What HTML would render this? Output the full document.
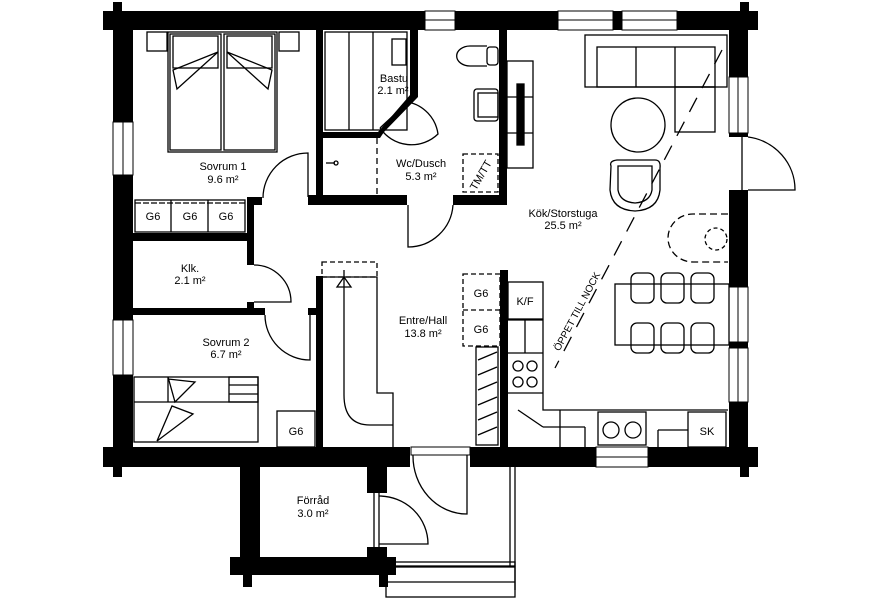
<!DOCTYPE html>
<html><head><meta charset="utf-8"><style>
html,body{margin:0;padding:0;background:#fff;}
svg{display:block;}
text{font-family:"Liberation Sans Narrow","Liberation Sans",sans-serif;font-size:11px;fill:#000;text-anchor:middle;}
</style></head><body>
<svg width="896" height="600" viewBox="0 0 896 600" xmlns="http://www.w3.org/2000/svg">
<g fill="#000">
<!-- outer walls -->
<rect x="103" y="11" width="655" height="19"/>
<rect x="113" y="2" width="9" height="28"/>
<rect x="740" y="2" width="9" height="28"/>
<rect x="113" y="11" width="20" height="456"/>
<rect x="729" y="11" width="19" height="126"/>
<rect x="729" y="190" width="19" height="277"/>
<rect x="103" y="447" width="307" height="20"/>
<rect x="113" y="447" width="9" height="30"/>
<rect x="470" y="447" width="288" height="20"/>
<rect x="740" y="447" width="9" height="30"/>
<!-- forrad -->
<rect x="240" y="447" width="20" height="128"/>
<rect x="230" y="557" width="166" height="18"/>
<rect x="243" y="557" width="9" height="30"/>
<rect x="367" y="447" width="20" height="46"/>
<rect x="367" y="547" width="20" height="28"/>
<rect x="379" y="557" width="9" height="30"/>
<!-- interior walls -->
<rect x="316" y="30" width="7" height="170"/>
<rect x="410" y="30" width="8" height="65"/>
<polygon points="410,93 418,95 418,97 384,132 380,138 323,138 323,132 378,132 410,95"/>
<rect x="308" y="195" width="99" height="10"/>
<rect x="453" y="195" width="54" height="10"/>
<rect x="499" y="30" width="8" height="175"/>
<rect x="247" y="197" width="15" height="8"/>
<rect x="133" y="233" width="120" height="8"/>
<rect x="247" y="197" width="7" height="68"/>
<rect x="247" y="302" width="7" height="13"/>
<rect x="133" y="308" width="132" height="7"/>
<rect x="308" y="308" width="10" height="7"/>
<rect x="316" y="276" width="7" height="171"/>
<rect x="500" y="270" width="8" height="177"/>
</g>
<!-- windows (white gaps with lines) -->
<g fill="#fff" stroke="#000" stroke-width="1">
<rect x="425" y="11" width="30" height="19"/>
<rect x="558" y="11" width="55" height="19"/>
<rect x="622" y="11" width="55" height="19"/>
<rect x="729" y="77" width="19" height="56"/>
<rect x="729" y="287" width="19" height="55"/>
<rect x="729" y="348" width="19" height="54"/>
<rect x="113" y="122" width="20" height="53"/>
<rect x="113" y="320" width="20" height="55"/>
<rect x="596" y="447" width="52" height="20"/>
<rect x="411" y="447" width="59" height="8"/>
</g>
<g stroke="#000" stroke-width="1">
<line x1="425" y1="20" x2="455" y2="20"/><line x1="558" y1="20" x2="613" y2="20"/><line x1="622" y1="20" x2="677" y2="20"/>
<line x1="738" y1="77" x2="738" y2="133"/><line x1="738" y1="287" x2="738" y2="402"/>
<line x1="123" y1="122" x2="123" y2="175"/><line x1="123" y1="320" x2="123" y2="375"/>
<line x1="596" y1="457" x2="648" y2="457"/>
</g>
<g fill="none" stroke="#000" stroke-width="1.3">
<!-- bed sovrum1 -->
<rect x="168" y="32" width="109" height="120"/>
<rect x="170" y="34" width="51" height="116"/><rect x="224" y="34" width="51" height="116"/>
<rect x="173" y="36" width="45" height="32"/><rect x="227" y="36" width="45" height="32"/>
<polyline points="218,52 173,70 177,89 218,52"/><polyline points="227,52 272,70 268,89 227,52"/>
<rect x="147" y="32" width="20" height="19"/><rect x="279" y="32" width="20" height="19"/>
<!-- door sovrum1 -->
<path d="M263,197 L263,198 A45,45 0 0 1 308,153 L308,197"/>
<!-- wardrobe -->
<rect x="135" y="200" width="110" height="32"/>
<line x1="171" y1="200" x2="171" y2="232"/><line x1="208" y1="200" x2="208" y2="232"/>
<line x1="135" y1="203" x2="245" y2="203" stroke-dasharray="6,2"/>
<!-- Klk door -->
<path d="M254,265 A37,37 0 0 1 291,302 L254,302"/>
<!-- sovrum2 door -->
<path d="M265,315 A45,45 0 0 0 310,360 L310,315"/>
<!-- bunk bed -->
<rect x="134" y="377" width="124" height="65"/>
<line x1="134" y1="402" x2="258" y2="402"/>
<rect x="229" y="377" width="29" height="25"/><line x1="229" y1="385" x2="258" y2="385"/><line x1="229" y1="394" x2="258" y2="394"/>
<polyline points="168,377 175,402 195,382 168,379"/><polyline points="157,441 172,406 193,414 157,441"/>
<line x1="168" y1="377" x2="168" y2="402"/>
<rect x="277" y="411" width="38" height="36"/>
<!-- bastu benches -->
<rect x="325" y="32" width="82" height="98"/>
<line x1="349" y1="32" x2="349" y2="130"/><line x1="373" y1="32" x2="373" y2="130"/>
<rect x="392" y="39" width="14" height="26"/>
<!-- bastu door -->
<path d="M380,128 L408,102 A38,38 0 0 1 438,134 A38,38 0 0 1 380,128"/>
<line x1="377" y1="138" x2="377" y2="195" stroke-dasharray="6,4"/>
<!-- shower valve -->
<line x1="326" y1="163" x2="335" y2="163"/><circle cx="336" cy="163" r="2"/>
<!-- wc door -->
<path d="M408,205 L408,247 A45,45 0 0 0 453,205"/>
<!-- toilet -->
<path d="M487,46 L470,46 A12,9 0 0 0 470,66 L487,66"/><rect x="487" y="47" width="11" height="18" rx="3"/>
<!-- sink -->
<rect x="474" y="89" width="24" height="32" rx="3"/><rect x="478" y="93" width="20" height="24"/>
<!-- TM/TT -->
<rect x="463" y="154" width="35" height="38" stroke-dasharray="5,3"/>
<!-- tv bench -->
<rect x="507" y="61" width="26" height="107"/>
<line x1="507" y1="97" x2="533" y2="97"/><line x1="507" y1="133" x2="533" y2="133"/>
<rect x="517" y="84" width="7" height="61" fill="#000"/>
<!-- sofa -->
<rect x="585" y="35" width="142" height="52"/>
<rect x="597" y="47" width="118" height="40"/>
<line x1="636" y1="47" x2="636" y2="87"/><line x1="675" y1="47" x2="675" y2="87"/>
<rect x="675" y="87" width="40" height="45"/>
<circle cx="638" cy="125" r="27"/>
<!-- armchair -->
<path d="M611,166 Q609,161 617,160 L655,160 Q661,160 660,168 L660,190 Q658,210 635,211 Q612,210 610,190 Z"/>
<path d="M618,166 L652,166 L652,190 Q650,202 635,203 Q620,202 618,190 Z"/>
<!-- fireplace -->
<path d="M728,214 L693,214 A25,24 0 0 0 693,262 L728,262" stroke-dasharray="7,4"/>
<circle cx="716" cy="239" r="11" stroke-dasharray="4,3"/>
<!-- dining -->
<rect x="615" y="284" width="114" height="61"/>
<g>
<rect x="631" y="273" width="23" height="30" rx="6"/><rect x="661" y="273" width="23" height="30" rx="6"/><rect x="691" y="273" width="23" height="30" rx="6"/>
<rect x="631" y="323" width="23" height="30" rx="6"/><rect x="661" y="323" width="23" height="30" rx="6"/><rect x="691" y="323" width="23" height="30" rx="6"/>
</g>
<!-- kitchen -->
<rect x="508" y="282" width="35" height="37"/>
<polyline points="508,320 543,320 543,410 728,410"/>
<line x1="508" y1="353" x2="543" y2="353"/><line x1="508" y1="393" x2="543" y2="393"/><line x1="525" y1="320" x2="525" y2="353"/>
<circle cx="518" cy="366" r="5"/><circle cx="532" cy="366" r="5"/><circle cx="518" cy="382" r="5"/><circle cx="532" cy="382" r="5"/>
<line x1="560" y1="410" x2="560" y2="447"/><line x1="585" y1="427" x2="585" y2="447"/><line x1="543" y1="427" x2="585" y2="427"/>
<polyline points="518,410 543,427"/>
<rect x="598" y="412" width="48" height="33"/>
<circle cx="611" cy="430" r="8"/><circle cx="633" cy="430" r="8"/>
<line x1="658" y1="430" x2="658" y2="447"/><line x1="658" y1="430" x2="688" y2="430"/>
<rect x="688" y="412" width="38" height="35"/>
<!-- G6 dashed hall -->
<rect x="463" y="274" width="37" height="72" stroke-dasharray="5,3"/>
<line x1="463" y1="310" x2="500" y2="310" stroke-dasharray="5,3"/>
<!-- shoe rack -->
<rect x="476" y="347" width="22" height="98"/>
<line x1="478" y1="360" x2="497" y2="352"/><line x1="478" y1="375" x2="497" y2="367"/><line x1="478" y1="390" x2="497" y2="382"/><line x1="478" y1="405" x2="497" y2="397"/><line x1="478" y1="420" x2="497" y2="412"/><line x1="478" y1="435" x2="497" y2="427"/>
<!-- stair -->
<rect x="322" y="262" width="55" height="15" stroke-dasharray="5,3"/>
<polyline points="323,277 377,277 377,393 393,393 393,447"/>
<path d="M344,270 L344,395 Q344,425 370,425 L393,425"/>
<polygon points="344,277 337,287 351,287"/>
<!-- doors entry -->
<path d="M413,455 A54,58 0 0 0 467,514 L467,455"/>
<line x1="374" y1="493" x2="374" y2="547"/><line x1="379" y1="493" x2="379" y2="547"/>
<path d="M379,496 A49,48 0 0 1 428,544 L379,544"/>
<!-- porch -->
<line x1="510" y1="467" x2="510" y2="566"/><line x1="515" y1="467" x2="515" y2="590"/>
<rect x="387" y="562" width="128" height="4"/>
<rect x="386" y="567" width="129" height="30"/>
<line x1="386" y1="582" x2="515" y2="582"/>
<!-- right door -->
<path d="M748,137 A54,53 0 0 1 795,190 L748,190"/>
<line x1="742" y1="137" x2="742" y2="190"/>
<!-- dashed open line -->
<line x1="722" y1="50" x2="555" y2="368" stroke-dasharray="16,11"/>
</g>
<!-- labels -->
<text x="223" y="170">Sovrum 1</text><text x="223" y="183">9.6 m²</text>
<text x="394" y="82">Bastu</text><text x="393" y="94">2.1 m²</text>
<text x="421" y="167">Wc/Dusch</text><text x="421" y="180">5.3 m²</text>
<text x="563" y="217">Kök/Storstuga</text><text x="563" y="229">25.5 m²</text>
<text x="190" y="272">Klk.</text><text x="190" y="284">2.1 m²</text>
<text x="423" y="324">Entre/Hall</text><text x="423" y="337">13.8 m²</text>
<text x="226" y="346">Sovrum 2</text><text x="226" y="358">6.7 m²</text>
<text x="313" y="504">Förråd</text><text x="313" y="517">3.0 m²</text>
<text x="153" y="220">G6</text><text x="190" y="220">G6</text><text x="226" y="220">G6</text>
<text x="481" y="297">G6</text><text x="481" y="333">G6</text><text x="296" y="435">G6</text>
<text x="525" y="305">K/F</text><text x="707" y="435">SK</text>
<text x="0" y="0" transform="translate(484,177) rotate(-60)">TM/TT</text>
<text x="0" y="0" transform="translate(580,313) rotate(-62)" style="font-size:10px">ÖPPET TILL NOCK</text>
</svg>
</body></html>
